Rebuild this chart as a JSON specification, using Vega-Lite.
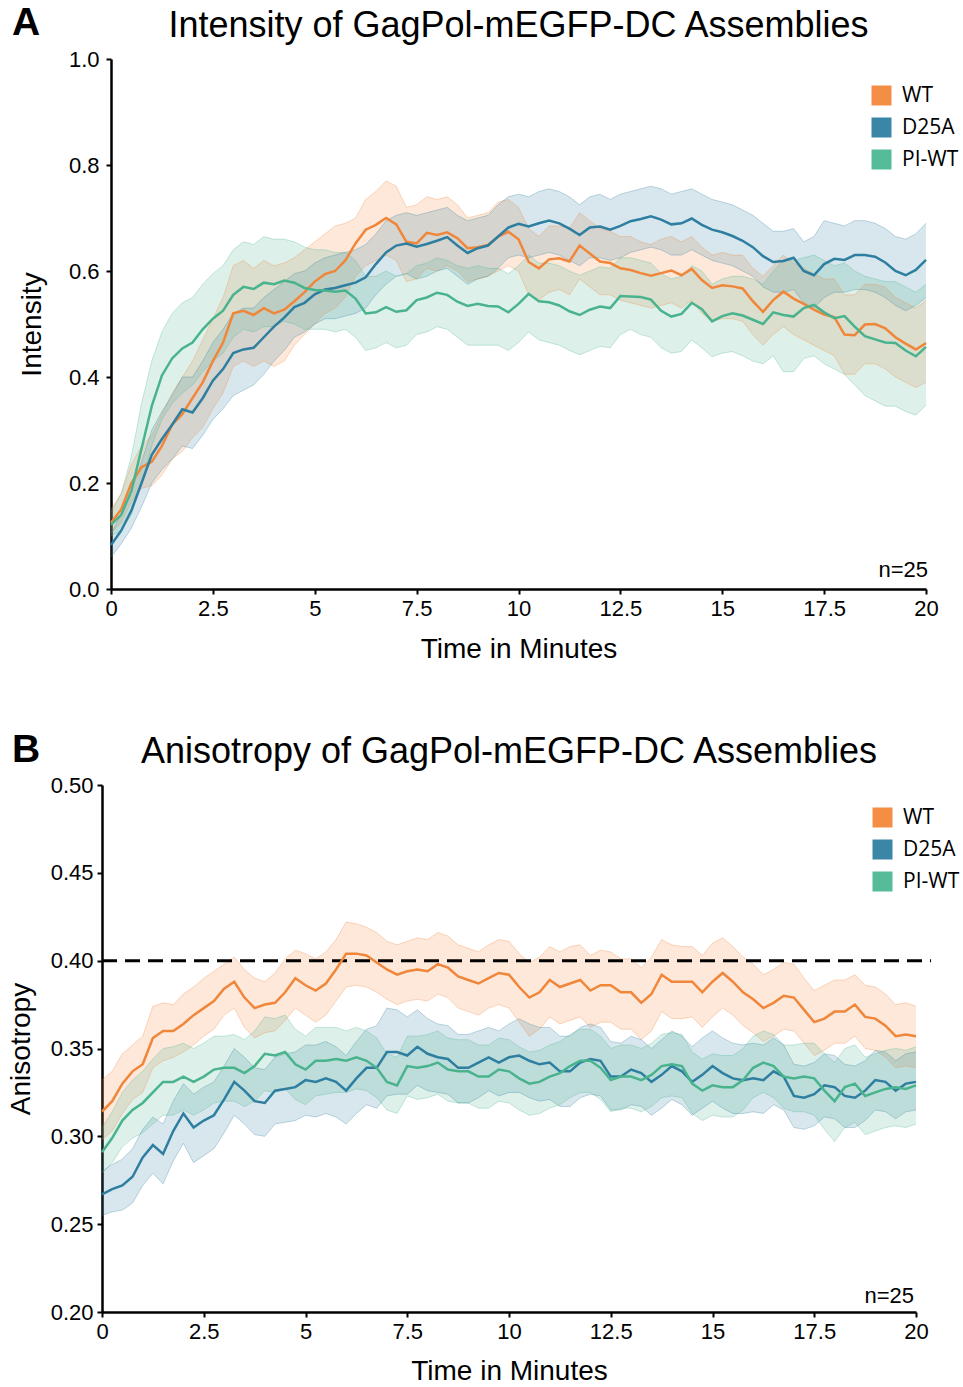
{
"$schema": "https://vega.github.io/schema/vega-lite/v6.json",
"padding": {"left": 7, "top": 4, "right": 0, "bottom": 0},
"background": "white",
"spacing": 67,
"config": {
 "view": {"stroke": null},
 "font": "Liberation Sans",
 "axis": {"domainColor": "black", "domainWidth": 2.5, "tickColor": "black", "tickWidth": 2, "tickSize": 5, "labelFont": "Liberation Sans", "labelFontSize": 22, "labelColor": "black", "labelFlush": false, "labelOverlap": false, "titleFont": "Liberation Sans", "titleFontSize": 28, "titleFontWeight": "normal", "titleColor": "black", "grid": false},
 "legend": {"labelFont": "Open Sans", "labelFontSize": 21, "labelColor": "black", "symbolType": "square", "symbolSize": 400, "symbolStrokeWidth": 0, "symbolOpacity": 1, "rowPadding": 10, "labelOffset": 10, "padding": 0}
},
"datasets": {
"A": [
{"s":"WT","t":0,"m":0.125,"l":0.105,"h":0.15},{"s":"WT","t":0.25,"m":0.15,"l":0.125,"h":0.18},{"s":"WT","t":0.5,"m":0.2,"l":0.165,"h":0.235},{"s":"WT","t":0.75,"m":0.23,"l":0.19,"h":0.27},{"s":"WT","t":1,"m":0.24,"l":0.195,"h":0.29},{"s":"WT","t":1.25,"m":0.27,"l":0.215,"h":0.33},{"s":"WT","t":1.5,"m":0.31,"l":0.245,"h":0.37},{"s":"WT","t":1.75,"m":0.33,"l":0.26,"h":0.4},{"s":"WT","t":2,"m":0.36,"l":0.285,"h":0.43},{"s":"WT","t":2.25,"m":0.39,"l":0.305,"h":0.47},{"s":"WT","t":2.5,"m":0.43,"l":0.34,"h":0.51},{"s":"WT","t":2.75,"m":0.465,"l":0.37,"h":0.55},{"s":"WT","t":3,"m":0.52,"l":0.42,"h":0.61},{"s":"WT","t":3.25,"m":0.525,"l":0.43,"h":0.62},{"s":"WT","t":3.5,"m":0.517,"l":0.42,"h":0.605},{"s":"WT","t":3.75,"m":0.53,"l":0.43,"h":0.62},{"s":"WT","t":4,"m":0.52,"l":0.42,"h":0.61},{"s":"WT","t":4.25,"m":0.527,"l":0.43,"h":0.615},{"s":"WT","t":4.5,"m":0.543,"l":0.46,"h":0.625},{"s":"WT","t":4.75,"m":0.56,"l":0.48,"h":0.64},{"s":"WT","t":5,"m":0.58,"l":0.5,"h":0.655},{"s":"WT","t":5.25,"m":0.594,"l":0.52,"h":0.67},{"s":"WT","t":5.5,"m":0.6,"l":0.53,"h":0.685},{"s":"WT","t":5.75,"m":0.62,"l":0.55,"h":0.69},{"s":"WT","t":6,"m":0.652,"l":0.59,"h":0.7},{"s":"WT","t":6.25,"m":0.678,"l":0.61,"h":0.735},{"s":"WT","t":6.5,"m":0.687,"l":0.62,"h":0.75},{"s":"WT","t":6.75,"m":0.7,"l":0.63,"h":0.77},{"s":"WT","t":7,"m":0.688,"l":0.62,"h":0.76},{"s":"WT","t":7.25,"m":0.655,"l":0.58,"h":0.72},{"s":"WT","t":7.5,"m":0.652,"l":0.585,"h":0.725},{"s":"WT","t":7.75,"m":0.672,"l":0.605,"h":0.74},{"s":"WT","t":8,"m":0.668,"l":0.6,"h":0.735},{"s":"WT","t":8.25,"m":0.673,"l":0.61,"h":0.74},{"s":"WT","t":8.5,"m":0.662,"l":0.6,"h":0.725},{"s":"WT","t":8.75,"m":0.643,"l":0.58,"h":0.7},{"s":"WT","t":9,"m":0.645,"l":0.585,"h":0.705},{"s":"WT","t":9.25,"m":0.649,"l":0.59,"h":0.71},{"s":"WT","t":9.5,"m":0.665,"l":0.6,"h":0.73},{"s":"WT","t":9.75,"m":0.674,"l":0.61,"h":0.735},{"s":"WT","t":10,"m":0.66,"l":0.6,"h":0.72},{"s":"WT","t":10.25,"m":0.617,"l":0.555,"h":0.68},{"s":"WT","t":10.5,"m":0.605,"l":0.545,"h":0.665},{"s":"WT","t":10.75,"m":0.622,"l":0.56,"h":0.685},{"s":"WT","t":11,"m":0.624,"l":0.565,"h":0.685},{"s":"WT","t":11.25,"m":0.618,"l":0.555,"h":0.68},{"s":"WT","t":11.5,"m":0.648,"l":0.585,"h":0.71},{"s":"WT","t":11.75,"m":0.633,"l":0.57,"h":0.695},{"s":"WT","t":12,"m":0.618,"l":0.555,"h":0.68},{"s":"WT","t":12.25,"m":0.615,"l":0.555,"h":0.675},{"s":"WT","t":12.5,"m":0.605,"l":0.545,"h":0.665},{"s":"WT","t":12.75,"m":0.602,"l":0.54,"h":0.665},{"s":"WT","t":13,"m":0.596,"l":0.535,"h":0.655},{"s":"WT","t":13.25,"m":0.591,"l":0.53,"h":0.65},{"s":"WT","t":13.5,"m":0.596,"l":0.535,"h":0.66},{"s":"WT","t":13.75,"m":0.601,"l":0.54,"h":0.665},{"s":"WT","t":14,"m":0.592,"l":0.53,"h":0.655},{"s":"WT","t":14.25,"m":0.604,"l":0.545,"h":0.665},{"s":"WT","t":14.5,"m":0.583,"l":0.52,"h":0.645},{"s":"WT","t":14.75,"m":0.568,"l":0.505,"h":0.63},{"s":"WT","t":15,"m":0.573,"l":0.51,"h":0.635},{"s":"WT","t":15.25,"m":0.571,"l":0.51,"h":0.63},{"s":"WT","t":15.5,"m":0.567,"l":0.505,"h":0.63},{"s":"WT","t":15.75,"m":0.543,"l":0.48,"h":0.605},{"s":"WT","t":16,"m":0.523,"l":0.46,"h":0.59},{"s":"WT","t":16.25,"m":0.545,"l":0.48,"h":0.61},{"s":"WT","t":16.5,"m":0.561,"l":0.495,"h":0.63},{"s":"WT","t":16.75,"m":0.548,"l":0.48,"h":0.615},{"s":"WT","t":17,"m":0.538,"l":0.47,"h":0.605},{"s":"WT","t":17.25,"m":0.527,"l":0.46,"h":0.595},{"s":"WT","t":17.5,"m":0.518,"l":0.45,"h":0.585},{"s":"WT","t":17.75,"m":0.513,"l":0.44,"h":0.585},{"s":"WT","t":18,"m":0.48,"l":0.405,"h":0.555},{"s":"WT","t":18.25,"m":0.479,"l":0.405,"h":0.555},{"s":"WT","t":18.5,"m":0.499,"l":0.425,"h":0.575},{"s":"WT","t":18.75,"m":0.5,"l":0.425,"h":0.575},{"s":"WT","t":19,"m":0.492,"l":0.415,"h":0.57},{"s":"WT","t":19.25,"m":0.475,"l":0.4,"h":0.55},{"s":"WT","t":19.5,"m":0.463,"l":0.39,"h":0.54},{"s":"WT","t":19.75,"m":0.452,"l":0.38,"h":0.53},{"s":"WT","t":20,"m":0.464,"l":0.39,"h":0.545},
{"s":"D25A","t":0,"m":0.083,"l":0.06,"h":0.105},{"s":"D25A","t":0.25,"m":0.11,"l":0.085,"h":0.14},{"s":"D25A","t":0.5,"m":0.148,"l":0.115,"h":0.185},{"s":"D25A","t":0.75,"m":0.2,"l":0.155,"h":0.24},{"s":"D25A","t":1,"m":0.253,"l":0.2,"h":0.3},{"s":"D25A","t":1.25,"m":0.283,"l":0.225,"h":0.335},{"s":"D25A","t":1.5,"m":0.31,"l":0.245,"h":0.365},{"s":"D25A","t":1.75,"m":0.339,"l":0.27,"h":0.4},{"s":"D25A","t":2,"m":0.333,"l":0.265,"h":0.4},{"s":"D25A","t":2.25,"m":0.36,"l":0.29,"h":0.43},{"s":"D25A","t":2.5,"m":0.393,"l":0.32,"h":0.465},{"s":"D25A","t":2.75,"m":0.415,"l":0.34,"h":0.49},{"s":"D25A","t":3,"m":0.445,"l":0.365,"h":0.52},{"s":"D25A","t":3.25,"m":0.452,"l":0.375,"h":0.53},{"s":"D25A","t":3.5,"m":0.455,"l":0.385,"h":0.53},{"s":"D25A","t":3.75,"m":0.475,"l":0.405,"h":0.55},{"s":"D25A","t":4,"m":0.495,"l":0.43,"h":0.565},{"s":"D25A","t":4.25,"m":0.512,"l":0.45,"h":0.58},{"s":"D25A","t":4.5,"m":0.532,"l":0.475,"h":0.595},{"s":"D25A","t":4.75,"m":0.54,"l":0.485,"h":0.6},{"s":"D25A","t":5,"m":0.556,"l":0.5,"h":0.615},{"s":"D25A","t":5.25,"m":0.565,"l":0.51,"h":0.625},{"s":"D25A","t":5.5,"m":0.568,"l":0.51,"h":0.63},{"s":"D25A","t":5.75,"m":0.573,"l":0.515,"h":0.635},{"s":"D25A","t":6,"m":0.578,"l":0.52,"h":0.64},{"s":"D25A","t":6.25,"m":0.588,"l":0.53,"h":0.65},{"s":"D25A","t":6.5,"m":0.613,"l":0.555,"h":0.67},{"s":"D25A","t":6.75,"m":0.635,"l":0.575,"h":0.695},{"s":"D25A","t":7,"m":0.648,"l":0.59,"h":0.705},{"s":"D25A","t":7.25,"m":0.652,"l":0.595,"h":0.71},{"s":"D25A","t":7.5,"m":0.646,"l":0.585,"h":0.705},{"s":"D25A","t":7.75,"m":0.651,"l":0.59,"h":0.71},{"s":"D25A","t":8,"m":0.657,"l":0.6,"h":0.715},{"s":"D25A","t":8.25,"m":0.664,"l":0.605,"h":0.72},{"s":"D25A","t":8.5,"m":0.648,"l":0.59,"h":0.705},{"s":"D25A","t":8.75,"m":0.634,"l":0.575,"h":0.695},{"s":"D25A","t":9,"m":0.643,"l":0.585,"h":0.7},{"s":"D25A","t":9.25,"m":0.648,"l":0.59,"h":0.705},{"s":"D25A","t":9.5,"m":0.665,"l":0.605,"h":0.725},{"s":"D25A","t":9.75,"m":0.682,"l":0.625,"h":0.74},{"s":"D25A","t":10,"m":0.689,"l":0.63,"h":0.745},{"s":"D25A","t":10.25,"m":0.684,"l":0.625,"h":0.74},{"s":"D25A","t":10.5,"m":0.69,"l":0.63,"h":0.75},{"s":"D25A","t":10.75,"m":0.695,"l":0.635,"h":0.755},{"s":"D25A","t":11,"m":0.69,"l":0.63,"h":0.75},{"s":"D25A","t":11.25,"m":0.68,"l":0.62,"h":0.74},{"s":"D25A","t":11.5,"m":0.668,"l":0.61,"h":0.725},{"s":"D25A","t":11.75,"m":0.682,"l":0.625,"h":0.74},{"s":"D25A","t":12,"m":0.684,"l":0.625,"h":0.745},{"s":"D25A","t":12.25,"m":0.678,"l":0.62,"h":0.735},{"s":"D25A","t":12.5,"m":0.685,"l":0.625,"h":0.745},{"s":"D25A","t":12.75,"m":0.694,"l":0.635,"h":0.75},{"s":"D25A","t":13,"m":0.698,"l":0.64,"h":0.755},{"s":"D25A","t":13.25,"m":0.703,"l":0.645,"h":0.76},{"s":"D25A","t":13.5,"m":0.697,"l":0.64,"h":0.755},{"s":"D25A","t":13.75,"m":0.688,"l":0.63,"h":0.745},{"s":"D25A","t":14,"m":0.69,"l":0.63,"h":0.75},{"s":"D25A","t":14.25,"m":0.699,"l":0.64,"h":0.755},{"s":"D25A","t":14.5,"m":0.687,"l":0.63,"h":0.745},{"s":"D25A","t":14.75,"m":0.678,"l":0.62,"h":0.735},{"s":"D25A","t":15,"m":0.673,"l":0.615,"h":0.73},{"s":"D25A","t":15.25,"m":0.666,"l":0.61,"h":0.725},{"s":"D25A","t":15.5,"m":0.657,"l":0.6,"h":0.715},{"s":"D25A","t":15.75,"m":0.645,"l":0.59,"h":0.705},{"s":"D25A","t":16,"m":0.628,"l":0.57,"h":0.69},{"s":"D25A","t":16.25,"m":0.617,"l":0.56,"h":0.675},{"s":"D25A","t":16.5,"m":0.619,"l":0.56,"h":0.675},{"s":"D25A","t":16.75,"m":0.625,"l":0.565,"h":0.68},{"s":"D25A","t":17,"m":0.6,"l":0.54,"h":0.655},{"s":"D25A","t":17.25,"m":0.592,"l":0.53,"h":0.665},{"s":"D25A","t":17.5,"m":0.613,"l":0.55,"h":0.695},{"s":"D25A","t":17.75,"m":0.623,"l":0.56,"h":0.69},{"s":"D25A","t":18,"m":0.621,"l":0.56,"h":0.685},{"s":"D25A","t":18.25,"m":0.63,"l":0.565,"h":0.695},{"s":"D25A","t":18.5,"m":0.63,"l":0.565,"h":0.695},{"s":"D25A","t":18.75,"m":0.627,"l":0.56,"h":0.69},{"s":"D25A","t":19,"m":0.616,"l":0.55,"h":0.68},{"s":"D25A","t":19.25,"m":0.6,"l":0.535,"h":0.665},{"s":"D25A","t":19.5,"m":0.592,"l":0.525,"h":0.66},{"s":"D25A","t":19.75,"m":0.602,"l":0.535,"h":0.67},{"s":"D25A","t":20,"m":0.621,"l":0.55,"h":0.69},
{"s":"PI-WT","t":0,"m":0.121,"l":0.1,"h":0.145},{"s":"PI-WT","t":0.25,"m":0.14,"l":0.11,"h":0.18},{"s":"PI-WT","t":0.5,"m":0.185,"l":0.14,"h":0.25},{"s":"PI-WT","t":0.75,"m":0.265,"l":0.2,"h":0.35},{"s":"PI-WT","t":1,"m":0.345,"l":0.27,"h":0.43},{"s":"PI-WT","t":1.25,"m":0.403,"l":0.32,"h":0.485},{"s":"PI-WT","t":1.5,"m":0.435,"l":0.35,"h":0.52},{"s":"PI-WT","t":1.75,"m":0.454,"l":0.37,"h":0.54},{"s":"PI-WT","t":2,"m":0.465,"l":0.385,"h":0.55},{"s":"PI-WT","t":2.25,"m":0.49,"l":0.41,"h":0.575},{"s":"PI-WT","t":2.5,"m":0.51,"l":0.43,"h":0.595},{"s":"PI-WT","t":2.75,"m":0.525,"l":0.445,"h":0.61},{"s":"PI-WT","t":3,"m":0.555,"l":0.475,"h":0.64},{"s":"PI-WT","t":3.25,"m":0.57,"l":0.49,"h":0.655},{"s":"PI-WT","t":3.5,"m":0.566,"l":0.485,"h":0.65},{"s":"PI-WT","t":3.75,"m":0.578,"l":0.495,"h":0.665},{"s":"PI-WT","t":4,"m":0.575,"l":0.495,"h":0.66},{"s":"PI-WT","t":4.25,"m":0.582,"l":0.505,"h":0.66},{"s":"PI-WT","t":4.5,"m":0.578,"l":0.5,"h":0.655},{"s":"PI-WT","t":4.75,"m":0.568,"l":0.49,"h":0.645},{"s":"PI-WT","t":5,"m":0.564,"l":0.49,"h":0.64},{"s":"PI-WT","t":5.25,"m":0.563,"l":0.49,"h":0.64},{"s":"PI-WT","t":5.5,"m":0.561,"l":0.485,"h":0.635},{"s":"PI-WT","t":5.75,"m":0.563,"l":0.49,"h":0.635},{"s":"PI-WT","t":6,"m":0.548,"l":0.475,"h":0.62},{"s":"PI-WT","t":6.25,"m":0.52,"l":0.45,"h":0.59},{"s":"PI-WT","t":6.5,"m":0.522,"l":0.455,"h":0.59},{"s":"PI-WT","t":6.75,"m":0.532,"l":0.465,"h":0.6},{"s":"PI-WT","t":7,"m":0.523,"l":0.455,"h":0.59},{"s":"PI-WT","t":7.25,"m":0.526,"l":0.46,"h":0.595},{"s":"PI-WT","t":7.5,"m":0.545,"l":0.48,"h":0.61},{"s":"PI-WT","t":7.75,"m":0.55,"l":0.485,"h":0.615},{"s":"PI-WT","t":8,"m":0.559,"l":0.495,"h":0.625},{"s":"PI-WT","t":8.25,"m":0.555,"l":0.49,"h":0.62},{"s":"PI-WT","t":8.5,"m":0.542,"l":0.475,"h":0.61},{"s":"PI-WT","t":8.75,"m":0.534,"l":0.46,"h":0.605},{"s":"PI-WT","t":9,"m":0.538,"l":0.46,"h":0.61},{"s":"PI-WT","t":9.25,"m":0.534,"l":0.46,"h":0.605},{"s":"PI-WT","t":9.5,"m":0.533,"l":0.46,"h":0.605},{"s":"PI-WT","t":9.75,"m":0.522,"l":0.45,"h":0.595},{"s":"PI-WT","t":10,"m":0.538,"l":0.465,"h":0.61},{"s":"PI-WT","t":10.25,"m":0.557,"l":0.485,"h":0.63},{"s":"PI-WT","t":10.5,"m":0.543,"l":0.47,"h":0.615},{"s":"PI-WT","t":10.75,"m":0.541,"l":0.465,"h":0.615},{"s":"PI-WT","t":11,"m":0.535,"l":0.46,"h":0.61},{"s":"PI-WT","t":11.25,"m":0.524,"l":0.45,"h":0.6},{"s":"PI-WT","t":11.5,"m":0.517,"l":0.442,"h":0.592},{"s":"PI-WT","t":11.75,"m":0.527,"l":0.45,"h":0.6},{"s":"PI-WT","t":12,"m":0.533,"l":0.458,"h":0.608},{"s":"PI-WT","t":12.25,"m":0.53,"l":0.455,"h":0.605},{"s":"PI-WT","t":12.5,"m":0.553,"l":0.48,"h":0.625},{"s":"PI-WT","t":12.75,"m":0.552,"l":0.49,"h":0.625},{"s":"PI-WT","t":13,"m":0.551,"l":0.48,"h":0.62},{"s":"PI-WT","t":13.25,"m":0.546,"l":0.475,"h":0.615},{"s":"PI-WT","t":13.5,"m":0.525,"l":0.455,"h":0.595},{"s":"PI-WT","t":13.75,"m":0.514,"l":0.445,"h":0.585},{"s":"PI-WT","t":14,"m":0.519,"l":0.448,"h":0.59},{"s":"PI-WT","t":14.25,"m":0.54,"l":0.47,"h":0.61},{"s":"PI-WT","t":14.5,"m":0.528,"l":0.455,"h":0.6},{"s":"PI-WT","t":14.75,"m":0.505,"l":0.438,"h":0.575},{"s":"PI-WT","t":15,"m":0.515,"l":0.445,"h":0.585},{"s":"PI-WT","t":15.25,"m":0.52,"l":0.448,"h":0.59},{"s":"PI-WT","t":15.5,"m":0.516,"l":0.44,"h":0.59},{"s":"PI-WT","t":15.75,"m":0.508,"l":0.43,"h":0.585},{"s":"PI-WT","t":16,"m":0.5,"l":0.425,"h":0.575},{"s":"PI-WT","t":16.25,"m":0.522,"l":0.44,"h":0.6},{"s":"PI-WT","t":16.5,"m":0.517,"l":0.41,"h":0.62},{"s":"PI-WT","t":16.75,"m":0.514,"l":0.41,"h":0.62},{"s":"PI-WT","t":17,"m":0.53,"l":0.435,"h":0.625},{"s":"PI-WT","t":17.25,"m":0.536,"l":0.44,"h":0.63},{"s":"PI-WT","t":17.5,"m":0.522,"l":0.425,"h":0.62},{"s":"PI-WT","t":17.75,"m":0.511,"l":0.415,"h":0.61},{"s":"PI-WT","t":18,"m":0.515,"l":0.405,"h":0.615},{"s":"PI-WT","t":18.25,"m":0.495,"l":0.385,"h":0.6},{"s":"PI-WT","t":18.5,"m":0.477,"l":0.365,"h":0.59},{"s":"PI-WT","t":18.75,"m":0.471,"l":0.355,"h":0.585},{"s":"PI-WT","t":19,"m":0.465,"l":0.345,"h":0.58},{"s":"PI-WT","t":19.25,"m":0.464,"l":0.345,"h":0.58},{"s":"PI-WT","t":19.5,"m":0.45,"l":0.335,"h":0.57},{"s":"PI-WT","t":19.75,"m":0.439,"l":0.328,"h":0.56},{"s":"PI-WT","t":20,"m":0.457,"l":0.347,"h":0.575}
],
"B": [
{"s":"WT","t":0,"m":0.314,"l":0.298,"h":0.332},{"s":"WT","t":0.25,"m":0.32,"l":0.303,"h":0.337},{"s":"WT","t":0.5,"m":0.33,"l":0.313,"h":0.347},{"s":"WT","t":0.75,"m":0.337,"l":0.321,"h":0.352},{"s":"WT","t":1,"m":0.341,"l":0.325,"h":0.357},{"s":"WT","t":1.25,"m":0.356,"l":0.339,"h":0.374},{"s":"WT","t":1.5,"m":0.36,"l":0.343,"h":0.376},{"s":"WT","t":1.75,"m":0.36,"l":0.345,"h":0.375},{"s":"WT","t":2,"m":0.364,"l":0.348,"h":0.381},{"s":"WT","t":2.25,"m":0.369,"l":0.352,"h":0.385},{"s":"WT","t":2.5,"m":0.373,"l":0.357,"h":0.39},{"s":"WT","t":2.75,"m":0.377,"l":0.361,"h":0.394},{"s":"WT","t":3,"m":0.384,"l":0.369,"h":0.398},{"s":"WT","t":3.25,"m":0.388,"l":0.373,"h":0.402},{"s":"WT","t":3.5,"m":0.379,"l":0.362,"h":0.395},{"s":"WT","t":3.75,"m":0.373,"l":0.356,"h":0.39},{"s":"WT","t":4,"m":0.375,"l":0.359,"h":0.388},{"s":"WT","t":4.25,"m":0.376,"l":0.36,"h":0.393},{"s":"WT","t":4.5,"m":0.382,"l":0.366,"h":0.401},{"s":"WT","t":4.75,"m":0.39,"l":0.373,"h":0.406},{"s":"WT","t":5,"m":0.386,"l":0.369,"h":0.404},{"s":"WT","t":5.25,"m":0.383,"l":0.365,"h":0.401},{"s":"WT","t":5.5,"m":0.387,"l":0.369,"h":0.405},{"s":"WT","t":5.75,"m":0.395,"l":0.377,"h":0.412},{"s":"WT","t":6,"m":0.404,"l":0.385,"h":0.422},{"s":"WT","t":6.25,"m":0.404,"l":0.386,"h":0.421},{"s":"WT","t":6.5,"m":0.403,"l":0.385,"h":0.419},{"s":"WT","t":6.75,"m":0.399,"l":0.382,"h":0.416},{"s":"WT","t":7,"m":0.395,"l":0.378,"h":0.411},{"s":"WT","t":7.25,"m":0.392,"l":0.375,"h":0.409},{"s":"WT","t":7.5,"m":0.394,"l":0.377,"h":0.411},{"s":"WT","t":7.75,"m":0.395,"l":0.378,"h":0.413},{"s":"WT","t":8,"m":0.394,"l":0.377,"h":0.412},{"s":"WT","t":8.25,"m":0.398,"l":0.381,"h":0.416},{"s":"WT","t":8.5,"m":0.396,"l":0.379,"h":0.414},{"s":"WT","t":8.75,"m":0.391,"l":0.373,"h":0.409},{"s":"WT","t":9,"m":0.389,"l":0.371,"h":0.407},{"s":"WT","t":9.25,"m":0.387,"l":0.369,"h":0.405},{"s":"WT","t":9.5,"m":0.39,"l":0.373,"h":0.409},{"s":"WT","t":9.75,"m":0.393,"l":0.375,"h":0.412},{"s":"WT","t":10,"m":0.392,"l":0.373,"h":0.411},{"s":"WT","t":10.25,"m":0.385,"l":0.365,"h":0.404},{"s":"WT","t":10.5,"m":0.379,"l":0.357,"h":0.399},{"s":"WT","t":10.75,"m":0.382,"l":0.361,"h":0.402},{"s":"WT","t":11,"m":0.389,"l":0.368,"h":0.408},{"s":"WT","t":11.25,"m":0.385,"l":0.364,"h":0.405},{"s":"WT","t":11.5,"m":0.387,"l":0.366,"h":0.408},{"s":"WT","t":11.75,"m":0.389,"l":0.368,"h":0.409},{"s":"WT","t":12,"m":0.383,"l":0.362,"h":0.403},{"s":"WT","t":12.25,"m":0.386,"l":0.365,"h":0.406},{"s":"WT","t":12.5,"m":0.386,"l":0.365,"h":0.405},{"s":"WT","t":12.75,"m":0.382,"l":0.361,"h":0.401},{"s":"WT","t":13,"m":0.382,"l":0.361,"h":0.401},{"s":"WT","t":13.25,"m":0.376,"l":0.355,"h":0.396},{"s":"WT","t":13.5,"m":0.381,"l":0.36,"h":0.402},{"s":"WT","t":13.75,"m":0.392,"l":0.371,"h":0.412},{"s":"WT","t":14,"m":0.388,"l":0.367,"h":0.409},{"s":"WT","t":14.25,"m":0.388,"l":0.367,"h":0.408},{"s":"WT","t":14.5,"m":0.388,"l":0.368,"h":0.408},{"s":"WT","t":14.75,"m":0.382,"l":0.362,"h":0.403},{"s":"WT","t":15,"m":0.388,"l":0.368,"h":0.41},{"s":"WT","t":15.25,"m":0.393,"l":0.373,"h":0.413},{"s":"WT","t":15.5,"m":0.388,"l":0.369,"h":0.408},{"s":"WT","t":15.75,"m":0.382,"l":0.363,"h":0.402},{"s":"WT","t":16,"m":0.378,"l":0.359,"h":0.398},{"s":"WT","t":16.25,"m":0.373,"l":0.354,"h":0.392},{"s":"WT","t":16.5,"m":0.376,"l":0.357,"h":0.395},{"s":"WT","t":16.75,"m":0.38,"l":0.361,"h":0.399},{"s":"WT","t":17,"m":0.379,"l":0.36,"h":0.398},{"s":"WT","t":17.25,"m":0.372,"l":0.353,"h":0.39},{"s":"WT","t":17.5,"m":0.365,"l":0.346,"h":0.383},{"s":"WT","t":17.75,"m":0.367,"l":0.349,"h":0.386},{"s":"WT","t":18,"m":0.371,"l":0.353,"h":0.389},{"s":"WT","t":18.25,"m":0.371,"l":0.353,"h":0.389},{"s":"WT","t":18.5,"m":0.375,"l":0.357,"h":0.392},{"s":"WT","t":18.75,"m":0.368,"l":0.35,"h":0.386},{"s":"WT","t":19,"m":0.367,"l":0.349,"h":0.385},{"s":"WT","t":19.25,"m":0.363,"l":0.345,"h":0.381},{"s":"WT","t":19.5,"m":0.357,"l":0.339,"h":0.375},{"s":"WT","t":19.75,"m":0.358,"l":0.34,"h":0.376},{"s":"WT","t":20,"m":0.357,"l":0.339,"h":0.374},
{"s":"D25A","t":0,"m":0.267,"l":0.255,"h":0.28},{"s":"D25A","t":0.25,"m":0.27,"l":0.257,"h":0.284},{"s":"D25A","t":0.5,"m":0.272,"l":0.258,"h":0.287},{"s":"D25A","t":0.75,"m":0.277,"l":0.262,"h":0.293},{"s":"D25A","t":1,"m":0.288,"l":0.272,"h":0.304},{"s":"D25A","t":1.25,"m":0.295,"l":0.279,"h":0.311},{"s":"D25A","t":1.5,"m":0.29,"l":0.273,"h":0.307},{"s":"D25A","t":1.75,"m":0.303,"l":0.286,"h":0.32},{"s":"D25A","t":2,"m":0.313,"l":0.296,"h":0.33},{"s":"D25A","t":2.25,"m":0.305,"l":0.285,"h":0.324},{"s":"D25A","t":2.5,"m":0.309,"l":0.289,"h":0.328},{"s":"D25A","t":2.75,"m":0.312,"l":0.293,"h":0.331},{"s":"D25A","t":3,"m":0.321,"l":0.302,"h":0.34},{"s":"D25A","t":3.25,"m":0.331,"l":0.312,"h":0.35},{"s":"D25A","t":3.5,"m":0.326,"l":0.307,"h":0.345},{"s":"D25A","t":3.75,"m":0.32,"l":0.301,"h":0.339},{"s":"D25A","t":4,"m":0.319,"l":0.3,"h":0.338},{"s":"D25A","t":4.25,"m":0.326,"l":0.307,"h":0.345},{"s":"D25A","t":4.5,"m":0.327,"l":0.308,"h":0.347},{"s":"D25A","t":4.75,"m":0.328,"l":0.309,"h":0.348},{"s":"D25A","t":5,"m":0.332,"l":0.312,"h":0.352},{"s":"D25A","t":5.25,"m":0.331,"l":0.311,"h":0.352},{"s":"D25A","t":5.5,"m":0.333,"l":0.313,"h":0.354},{"s":"D25A","t":5.75,"m":0.331,"l":0.311,"h":0.351},{"s":"D25A","t":6,"m":0.326,"l":0.307,"h":0.346},{"s":"D25A","t":6.25,"m":0.333,"l":0.313,"h":0.354},{"s":"D25A","t":6.5,"m":0.339,"l":0.318,"h":0.361},{"s":"D25A","t":6.75,"m":0.339,"l":0.316,"h":0.363},{"s":"D25A","t":7,"m":0.348,"l":0.323,"h":0.373},{"s":"D25A","t":7.25,"m":0.348,"l":0.324,"h":0.372},{"s":"D25A","t":7.5,"m":0.346,"l":0.324,"h":0.368},{"s":"D25A","t":7.75,"m":0.351,"l":0.329,"h":0.372},{"s":"D25A","t":8,"m":0.347,"l":0.326,"h":0.367},{"s":"D25A","t":8.25,"m":0.345,"l":0.325,"h":0.364},{"s":"D25A","t":8.5,"m":0.344,"l":0.324,"h":0.363},{"s":"D25A","t":8.75,"m":0.339,"l":0.319,"h":0.358},{"s":"D25A","t":9,"m":0.339,"l":0.319,"h":0.358},{"s":"D25A","t":9.25,"m":0.342,"l":0.322,"h":0.36},{"s":"D25A","t":9.5,"m":0.345,"l":0.326,"h":0.362},{"s":"D25A","t":9.75,"m":0.342,"l":0.323,"h":0.36},{"s":"D25A","t":10,"m":0.345,"l":0.325,"h":0.364},{"s":"D25A","t":10.25,"m":0.346,"l":0.325,"h":0.367},{"s":"D25A","t":10.5,"m":0.343,"l":0.322,"h":0.364},{"s":"D25A","t":10.75,"m":0.341,"l":0.32,"h":0.362},{"s":"D25A","t":11,"m":0.342,"l":0.321,"h":0.362},{"s":"D25A","t":11.25,"m":0.337,"l":0.317,"h":0.357},{"s":"D25A","t":11.5,"m":0.337,"l":0.317,"h":0.357},{"s":"D25A","t":11.75,"m":0.342,"l":0.322,"h":0.362},{"s":"D25A","t":12,"m":0.344,"l":0.324,"h":0.364},{"s":"D25A","t":12.25,"m":0.343,"l":0.323,"h":0.362},{"s":"D25A","t":12.5,"m":0.334,"l":0.315,"h":0.354},{"s":"D25A","t":12.75,"m":0.334,"l":0.315,"h":0.353},{"s":"D25A","t":13,"m":0.338,"l":0.318,"h":0.357},{"s":"D25A","t":13.25,"m":0.336,"l":0.317,"h":0.355},{"s":"D25A","t":13.5,"m":0.331,"l":0.312,"h":0.35},{"s":"D25A","t":13.75,"m":0.335,"l":0.316,"h":0.355},{"s":"D25A","t":14,"m":0.34,"l":0.321,"h":0.36},{"s":"D25A","t":14.25,"m":0.337,"l":0.318,"h":0.357},{"s":"D25A","t":14.5,"m":0.331,"l":0.312,"h":0.351},{"s":"D25A","t":14.75,"m":0.335,"l":0.316,"h":0.356},{"s":"D25A","t":15,"m":0.34,"l":0.32,"h":0.36},{"s":"D25A","t":15.25,"m":0.336,"l":0.316,"h":0.356},{"s":"D25A","t":15.5,"m":0.333,"l":0.313,"h":0.353},{"s":"D25A","t":15.75,"m":0.332,"l":0.313,"h":0.352},{"s":"D25A","t":16,"m":0.333,"l":0.314,"h":0.353},{"s":"D25A","t":16.25,"m":0.332,"l":0.313,"h":0.352},{"s":"D25A","t":16.5,"m":0.337,"l":0.318,"h":0.356},{"s":"D25A","t":16.75,"m":0.334,"l":0.315,"h":0.352},{"s":"D25A","t":17,"m":0.323,"l":0.305,"h":0.341},{"s":"D25A","t":17.25,"m":0.322,"l":0.304,"h":0.34},{"s":"D25A","t":17.5,"m":0.324,"l":0.306,"h":0.342},{"s":"D25A","t":17.75,"m":0.329,"l":0.311,"h":0.347},{"s":"D25A","t":18,"m":0.328,"l":0.31,"h":0.346},{"s":"D25A","t":18.25,"m":0.323,"l":0.305,"h":0.341},{"s":"D25A","t":18.5,"m":0.322,"l":0.305,"h":0.34},{"s":"D25A","t":18.75,"m":0.326,"l":0.309,"h":0.343},{"s":"D25A","t":19,"m":0.332,"l":0.315,"h":0.349},{"s":"D25A","t":19.25,"m":0.331,"l":0.314,"h":0.348},{"s":"D25A","t":19.5,"m":0.326,"l":0.31,"h":0.343},{"s":"D25A","t":19.75,"m":0.33,"l":0.314,"h":0.347},{"s":"D25A","t":20,"m":0.331,"l":0.315,"h":0.348},
{"s":"PI-WT","t":0,"m":0.291,"l":0.279,"h":0.305},{"s":"PI-WT","t":0.25,"m":0.299,"l":0.285,"h":0.314},{"s":"PI-WT","t":0.5,"m":0.309,"l":0.294,"h":0.325},{"s":"PI-WT","t":0.75,"m":0.315,"l":0.299,"h":0.332},{"s":"PI-WT","t":1,"m":0.319,"l":0.302,"h":0.337},{"s":"PI-WT","t":1.25,"m":0.325,"l":0.307,"h":0.344},{"s":"PI-WT","t":1.5,"m":0.331,"l":0.312,"h":0.35},{"s":"PI-WT","t":1.75,"m":0.331,"l":0.312,"h":0.351},{"s":"PI-WT","t":2,"m":0.334,"l":0.315,"h":0.353},{"s":"PI-WT","t":2.25,"m":0.331,"l":0.312,"h":0.35},{"s":"PI-WT","t":2.5,"m":0.334,"l":0.315,"h":0.353},{"s":"PI-WT","t":2.75,"m":0.338,"l":0.319,"h":0.357},{"s":"PI-WT","t":3,"m":0.339,"l":0.32,"h":0.357},{"s":"PI-WT","t":3.25,"m":0.339,"l":0.32,"h":0.358},{"s":"PI-WT","t":3.5,"m":0.336,"l":0.317,"h":0.355},{"s":"PI-WT","t":3.75,"m":0.34,"l":0.32,"h":0.36},{"s":"PI-WT","t":4,"m":0.347,"l":0.326,"h":0.368},{"s":"PI-WT","t":4.25,"m":0.346,"l":0.325,"h":0.367},{"s":"PI-WT","t":4.5,"m":0.348,"l":0.327,"h":0.369},{"s":"PI-WT","t":4.75,"m":0.341,"l":0.321,"h":0.361},{"s":"PI-WT","t":5,"m":0.338,"l":0.318,"h":0.357},{"s":"PI-WT","t":5.25,"m":0.343,"l":0.323,"h":0.362},{"s":"PI-WT","t":5.5,"m":0.343,"l":0.324,"h":0.362},{"s":"PI-WT","t":5.75,"m":0.344,"l":0.325,"h":0.362},{"s":"PI-WT","t":6,"m":0.343,"l":0.325,"h":0.36},{"s":"PI-WT","t":6.25,"m":0.345,"l":0.327,"h":0.362},{"s":"PI-WT","t":6.5,"m":0.343,"l":0.326,"h":0.36},{"s":"PI-WT","t":6.75,"m":0.339,"l":0.322,"h":0.356},{"s":"PI-WT","t":7,"m":0.331,"l":0.315,"h":0.347},{"s":"PI-WT","t":7.25,"m":0.329,"l":0.313,"h":0.345},{"s":"PI-WT","t":7.5,"m":0.34,"l":0.323,"h":0.357},{"s":"PI-WT","t":7.75,"m":0.339,"l":0.321,"h":0.357},{"s":"PI-WT","t":8,"m":0.34,"l":0.322,"h":0.358},{"s":"PI-WT","t":8.25,"m":0.342,"l":0.324,"h":0.36},{"s":"PI-WT","t":8.5,"m":0.338,"l":0.32,"h":0.356},{"s":"PI-WT","t":8.75,"m":0.337,"l":0.319,"h":0.355},{"s":"PI-WT","t":9,"m":0.337,"l":0.319,"h":0.355},{"s":"PI-WT","t":9.25,"m":0.334,"l":0.316,"h":0.352},{"s":"PI-WT","t":9.5,"m":0.334,"l":0.316,"h":0.352},{"s":"PI-WT","t":9.75,"m":0.338,"l":0.32,"h":0.356},{"s":"PI-WT","t":10,"m":0.337,"l":0.319,"h":0.355},{"s":"PI-WT","t":10.25,"m":0.333,"l":0.315,"h":0.351},{"s":"PI-WT","t":10.5,"m":0.33,"l":0.312,"h":0.348},{"s":"PI-WT","t":10.75,"m":0.331,"l":0.313,"h":0.349},{"s":"PI-WT","t":11,"m":0.334,"l":0.316,"h":0.352},{"s":"PI-WT","t":11.25,"m":0.336,"l":0.318,"h":0.354},{"s":"PI-WT","t":11.5,"m":0.34,"l":0.322,"h":0.358},{"s":"PI-WT","t":11.75,"m":0.343,"l":0.325,"h":0.361},{"s":"PI-WT","t":12,"m":0.343,"l":0.325,"h":0.361},{"s":"PI-WT","t":12.25,"m":0.339,"l":0.321,"h":0.357},{"s":"PI-WT","t":12.5,"m":0.332,"l":0.314,"h":0.35},{"s":"PI-WT","t":12.75,"m":0.334,"l":0.316,"h":0.352},{"s":"PI-WT","t":13,"m":0.334,"l":0.316,"h":0.352},{"s":"PI-WT","t":13.25,"m":0.332,"l":0.314,"h":0.35},{"s":"PI-WT","t":13.5,"m":0.335,"l":0.317,"h":0.353},{"s":"PI-WT","t":13.75,"m":0.34,"l":0.322,"h":0.358},{"s":"PI-WT","t":14,"m":0.341,"l":0.323,"h":0.359},{"s":"PI-WT","t":14.25,"m":0.34,"l":0.322,"h":0.358},{"s":"PI-WT","t":14.5,"m":0.33,"l":0.313,"h":0.348},{"s":"PI-WT","t":14.75,"m":0.326,"l":0.309,"h":0.344},{"s":"PI-WT","t":15,"m":0.329,"l":0.312,"h":0.347},{"s":"PI-WT","t":15.25,"m":0.328,"l":0.311,"h":0.346},{"s":"PI-WT","t":15.5,"m":0.328,"l":0.311,"h":0.346},{"s":"PI-WT","t":15.75,"m":0.332,"l":0.315,"h":0.35},{"s":"PI-WT","t":16,"m":0.339,"l":0.322,"h":0.357},{"s":"PI-WT","t":16.25,"m":0.342,"l":0.325,"h":0.36},{"s":"PI-WT","t":16.5,"m":0.34,"l":0.322,"h":0.358},{"s":"PI-WT","t":16.75,"m":0.334,"l":0.316,"h":0.352},{"s":"PI-WT","t":17,"m":0.333,"l":0.314,"h":0.352},{"s":"PI-WT","t":17.25,"m":0.334,"l":0.314,"h":0.353},{"s":"PI-WT","t":17.5,"m":0.333,"l":0.312,"h":0.353},{"s":"PI-WT","t":17.75,"m":0.326,"l":0.304,"h":0.347},{"s":"PI-WT","t":18,"m":0.32,"l":0.297,"h":0.342},{"s":"PI-WT","t":18.25,"m":0.328,"l":0.305,"h":0.35},{"s":"PI-WT","t":18.5,"m":0.33,"l":0.308,"h":0.352},{"s":"PI-WT","t":18.75,"m":0.323,"l":0.301,"h":0.345},{"s":"PI-WT","t":19,"m":0.325,"l":0.303,"h":0.347},{"s":"PI-WT","t":19.25,"m":0.327,"l":0.305,"h":0.349},{"s":"PI-WT","t":19.5,"m":0.328,"l":0.306,"h":0.35},{"s":"PI-WT","t":19.75,"m":0.327,"l":0.305,"h":0.349},{"s":"PI-WT","t":20,"m":0.329,"l":0.307,"h":0.351}
]
},
"resolve": {"scale": {"x": "independent", "y": "independent", "fill": "independent", "stroke": "independent"}, "legend": {"fill": "independent", "stroke": "independent"}, "axis": {"x": "independent", "y": "independent"}},
"vconcat": [
{
 "width": 824, "height": 530,
 "data": {"name": "A"},
 "layer": [
  {"mark": {"type": "area", "fillOpacity": 0.2},
   "encoding": {
    "x": {"field": "t", "type": "quantitative", "scale": {"domain": [0, 20], "range": [9, 824]}, "axis": {"values": [0, 2.5, 5, 7.5, 10, 12.5, 15, 17.5, 20], "labelExpr": "'' + datum.value", "title": "Time in Minutes", "labelPadding": 4, "titlePadding": 16}},
    "y": {"field": "l", "type": "quantitative", "scale": {"domain": [0, 1]}, "axis": {"values": [0, 0.2, 0.4, 0.6, 0.8, 1.0], "format": ".1f", "title": "Intensity", "labelPadding": 7, "titlePadding": 22, "offset": -9}},
    "y2": {"field": "h"},
    "fill": {"field": "s", "type": "nominal", "scale": {"domain": ["WT", "D25A", "PI-WT"], "range": ["#F48E45", "#3A86A6", "#55BB98"]}, "legend": {"title": null, "orient": "none", "legendX": 769, "legendY": 26, "symbolOpacity": 1}}
   }},
  {"mark": {"type": "line", "strokeWidth": 1, "strokeOpacity": 0.3},
   "encoding": {"x": {"field": "t", "type": "quantitative", "scale": {"domain": [0, 20], "range": [9, 824]}}, "y": {"field": "l", "type": "quantitative", "scale": {"domain": [0, 1]}}, "stroke": {"field": "s", "type": "nominal", "scale": {"domain": ["WT", "D25A", "PI-WT"], "range": ["#F0863A", "#2E7EA0", "#49B38D"]}, "legend": null}}},
  {"mark": {"type": "line", "strokeWidth": 1, "strokeOpacity": 0.3},
   "encoding": {"x": {"field": "t", "type": "quantitative", "scale": {"domain": [0, 20], "range": [9, 824]}}, "y": {"field": "h", "type": "quantitative", "scale": {"domain": [0, 1]}}, "stroke": {"field": "s", "type": "nominal", "scale": {"domain": ["WT", "D25A", "PI-WT"], "range": ["#F0863A", "#2E7EA0", "#49B38D"]}, "legend": null}}},
  {"mark": {"type": "line", "strokeWidth": 2.5},
   "encoding": {"x": {"field": "t", "type": "quantitative", "scale": {"domain": [0, 20], "range": [9, 824]}}, "y": {"field": "m", "type": "quantitative", "scale": {"domain": [0, 1]}}, "stroke": {"field": "s", "type": "nominal", "scale": {"domain": ["WT", "D25A", "PI-WT"], "range": ["#F0863A", "#2E7EA0", "#49B38D"]}, "legend": null}}},
  {"data": {"values": [{"txt": "n=25"}]},
   "mark": {"type": "text", "align": "right", "baseline": "alphabetic", "dx": 2, "fontSize": 22, "font": "Liberation Sans", "color": "black"},
   "encoding": {"x": {"datum": 20, "type": "quantitative", "scale": {"domain": [0, 20], "range": [9, 824]}}, "y": {"datum": 0.0226, "type": "quantitative", "scale": {"domain": [0, 1]}}, "text": {"field": "txt"}}},
  {"data": {"values": [{"txt": "Intensity of GagPol-mEGFP-DC Assemblies"}]},
   "mark": {"type": "text", "align": "center", "baseline": "alphabetic", "fontSize": 36, "font": "Liberation Sans", "color": "black"},
   "encoding": {"x": {"datum": 10, "type": "quantitative", "scale": {"domain": [0, 20], "range": [9, 824]}}, "y": {"datum": 1.0415, "type": "quantitative", "scale": {"domain": [0, 1]}}, "text": {"field": "txt"}}},
  {"data": {"values": [{"txt": "A"}]},
   "mark": {"type": "text", "align": "left", "baseline": "alphabetic", "fontSize": 39, "fontWeight": "bold", "font": "Liberation Sans", "color": "black"},
   "encoding": {"x": {"datum": -2.43, "type": "quantitative", "scale": {"domain": [0, 20], "range": [9, 824]}}, "y": {"datum": 1.045, "type": "quantitative", "scale": {"domain": [0, 1]}}, "text": {"field": "txt"}}}
 ]
},
{
 "width": 814, "height": 527,
 "data": {"name": "B"},
 "layer": [
  {"mark": {"type": "area", "fillOpacity": 0.2},
   "encoding": {
    "x": {"field": "t", "type": "quantitative", "scale": {"domain": [0, 20]}, "axis": {"values": [0, 2.5, 5, 7.5, 10, 12.5, 15, 17.5, 20], "labelExpr": "'' + datum.value", "title": "Time in Minutes", "labelPadding": 4, "titlePadding": 15}},
    "y": {"field": "l", "type": "quantitative", "scale": {"domain": [0.2, 0.5], "zero": false}, "axis": {"values": [0.2, 0.25, 0.3, 0.35, 0.4, 0.45, 0.5], "format": ".2f", "title": "Anisotropy", "labelPadding": 4, "titlePadding": 15}},
    "y2": {"field": "h"},
    "fill": {"field": "s", "type": "nominal", "scale": {"domain": ["WT", "D25A", "PI-WT"], "range": ["#F48E45", "#3A86A6", "#55BB98"]}, "legend": {"title": null, "orient": "none", "legendX": 770, "legendY": 22, "symbolOpacity": 1}}
   }},
  {"mark": {"type": "line", "strokeWidth": 1, "strokeOpacity": 0.3},
   "encoding": {"x": {"field": "t", "type": "quantitative", "scale": {"domain": [0, 20]}}, "y": {"field": "l", "type": "quantitative", "scale": {"domain": [0.2, 0.5], "zero": false}}, "stroke": {"field": "s", "type": "nominal", "scale": {"domain": ["WT", "D25A", "PI-WT"], "range": ["#F0863A", "#2E7EA0", "#49B38D"]}, "legend": null}}},
  {"mark": {"type": "line", "strokeWidth": 1, "strokeOpacity": 0.3},
   "encoding": {"x": {"field": "t", "type": "quantitative", "scale": {"domain": [0, 20]}}, "y": {"field": "h", "type": "quantitative", "scale": {"domain": [0.2, 0.5], "zero": false}}, "stroke": {"field": "s", "type": "nominal", "scale": {"domain": ["WT", "D25A", "PI-WT"], "range": ["#F0863A", "#2E7EA0", "#49B38D"]}, "legend": null}}},
  {"data": {"values": [{"ref": 0.4}]},
   "mark": {"type": "rule", "strokeWidth": 3, "strokeDash": [15, 8], "color": "black"},
   "encoding": {"x": {"datum": 0, "type": "quantitative", "scale": {"domain": [0, 20]}}, "x2": {"datum": 20.37}, "y": {"field": "ref", "type": "quantitative", "scale": {"domain": [0.2, 0.5], "zero": false}}}},
  {"mark": {"type": "line", "strokeWidth": 2.5},
   "encoding": {"x": {"field": "t", "type": "quantitative", "scale": {"domain": [0, 20]}}, "y": {"field": "m", "type": "quantitative", "scale": {"domain": [0.2, 0.5], "zero": false}}, "stroke": {"field": "s", "type": "nominal", "scale": {"domain": ["WT", "D25A", "PI-WT"], "range": ["#F0863A", "#2E7EA0", "#49B38D"]}, "legend": null}}},
  {"data": {"values": [{"txt": "n=25"}]},
   "mark": {"type": "text", "align": "right", "baseline": "alphabetic", "dx": -2, "fontSize": 22, "font": "Liberation Sans", "color": "black"},
   "encoding": {"x": {"datum": 20, "type": "quantitative", "scale": {"domain": [0, 20]}}, "y": {"datum": 0.2051, "type": "quantitative", "scale": {"domain": [0.2, 0.5], "zero": false}}, "text": {"field": "txt"}}},
  {"data": {"values": [{"txt": "Anisotropy of GagPol-mEGFP-DC Assemblies"}]},
   "mark": {"type": "text", "align": "center", "baseline": "alphabetic", "fontSize": 36, "font": "Liberation Sans", "color": "black"},
   "encoding": {"x": {"datum": 10, "type": "quantitative", "scale": {"domain": [0, 20]}}, "y": {"datum": 0.5125, "type": "quantitative", "scale": {"domain": [0.2, 0.5], "zero": false}}, "text": {"field": "txt"}}},
  {"data": {"values": [{"txt": "B"}]},
   "mark": {"type": "text", "align": "left", "baseline": "alphabetic", "fontSize": 39, "fontWeight": "bold", "font": "Liberation Sans", "color": "black"},
   "encoding": {"x": {"datum": -2.21, "type": "quantitative", "scale": {"domain": [0, 20]}}, "y": {"datum": 0.5131, "type": "quantitative", "scale": {"domain": [0.2, 0.5], "zero": false}}, "text": {"field": "txt"}}}
 ]
}
]
}
